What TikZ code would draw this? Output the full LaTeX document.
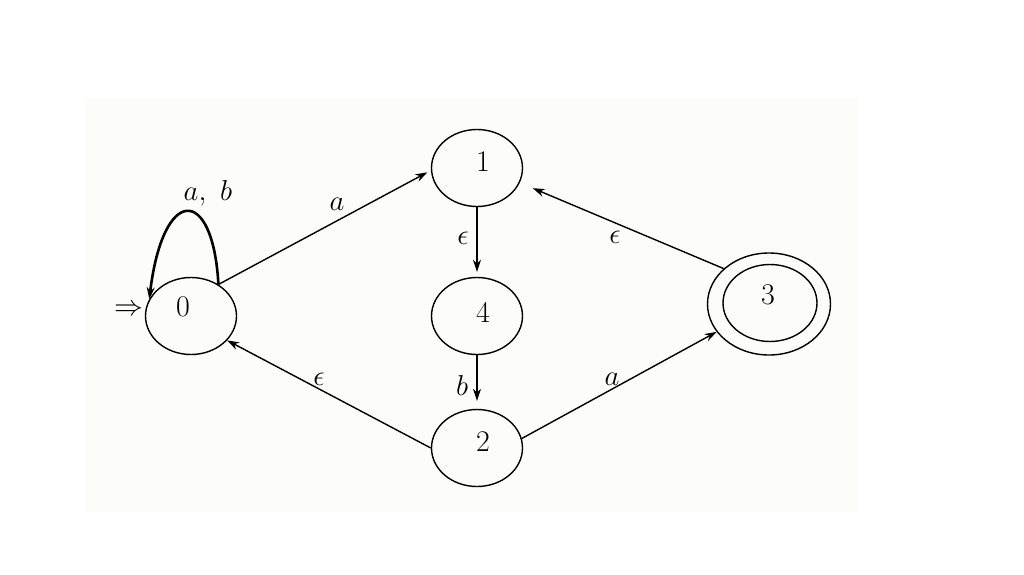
\documentclass[tikz,border=0pt]{standalone}
\usetikzlibrary{arrows.meta,shapes.geometric}
\definecolor{bgfaint}{RGB}{252,253,250}
\begin{document}
\begin{tikzpicture}[x=0.5pt,y=-0.5pt,
  st/.style={draw, ellipse, line width=0.7pt, minimum width=45.5pt, minimum height=38.5pt, inner sep=0pt},
  digit/.style={font=\fontsize{15}{18}\selectfont, inner sep=0pt},
  lbl/.style={font=\fontsize{14}{17}\selectfont, inner sep=0pt},
  trans/.style={line width=0.7pt, -{Stealth[length=6pt,width=4pt]}},
]
\useasboundingbox (0,0) rectangle (1024,574);
\fill[bgfaint] (85,98) rectangle (857,512);

% states
\node[st, label={[digit,xshift=-4pt,yshift=4.5pt]center:0}] (q0) at (191,316) {};
\node[st, label={[digit,xshift=3pt,yshift=3pt]center:1}] (q1) at (477,168) {};
\node[st, label={[digit,xshift=3pt,yshift=2pt]center:4}] (q4) at (477,316) {};
\node[st, label={[digit,xshift=3pt,yshift=3pt]center:2}] (q2) at (477,448) {};
\node[st, minimum width=61.5pt, minimum height=51pt, label={[digit,xshift=-0.5pt,yshift=4.5pt]center:3}] (q3) at (769,304) {};
\node[st, minimum width=47pt, minimum height=38.5pt] (q3in) at (770,303) {};

% initial marker
\node[lbl] (init) at (129,310) {$\Rightarrow$};

% transitions
\draw[trans, shorten >=2pt] (q0.49) -- (q1.183);
\draw[trans, shorten >=2.5pt] (q1.south) -- (q4.north);
\draw[trans, shorten >=4pt] (q4.south) -- (q2.north);
\draw[trans] (q2.180) -- (q0.-34);
\draw[trans] (q2.12) -- (q3.208);
\draw[trans, shorten >=7pt] (q3.142) -- (q1.-19);
\draw[line width=1.3pt, -{Stealth[length=6pt,width=4pt]}] (q0.49) .. controls (213,185) and (163,185) .. (q0.158);

% labels
\node[lbl] (l01) at (337,204) {$a$};
\node[lbl] (l14) at (463,238) {$\epsilon$};
\node[lbl] (l42) at (462,385) {$b$};
\node[lbl] (l31) at (615,237) {$\epsilon$};
\node[lbl] (l20) at (319,379) {$\epsilon$};
\node[lbl] (l23) at (612,379) {$a$};
\node[lbl] (lloop) at (208,193) {$a,\ b$};
\end{tikzpicture}
\end{document}
